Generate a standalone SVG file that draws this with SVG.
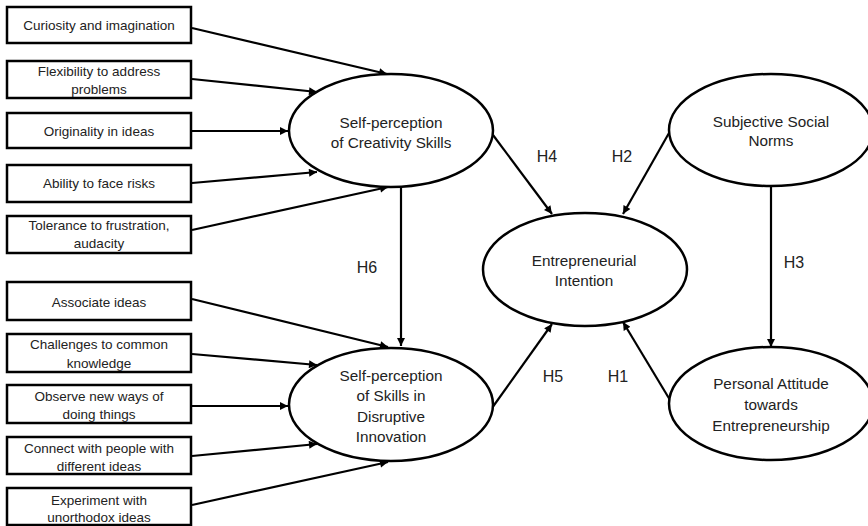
<svg xmlns="http://www.w3.org/2000/svg" width="868" height="526" viewBox="0 0 868 526">
<defs>
<marker id="ah" viewBox="0 0 10 10" refX="10" refY="5" markerWidth="9" markerHeight="8" markerUnits="userSpaceOnUse" orient="auto">
<path d="M0,0 L10,5 L0,10 Z" fill="#000"/>
</marker>
<style>
.box{fill:#fff;stroke:#000;stroke-width:2.5}
.ell{fill:#fff;stroke:#000;stroke-width:2.5}
.bt{font-family:"Liberation Sans",Arial,sans-serif;font-size:13.5px;fill:#222;text-anchor:middle}
.et{font-family:"Liberation Sans",Arial,sans-serif;font-size:15.3px;fill:#222;text-anchor:middle}
.ht{font-family:"Liberation Sans",Arial,sans-serif;font-size:16px;fill:#222;text-anchor:middle}
.c{stroke:#000;stroke-width:2.2;fill:none;marker-end:url(#ah)}
</style>
</defs>
<rect width="868" height="526" fill="#fff"/>
<g id="connectors">
<line class="c" x1="192" y1="28" x2="387" y2="74"/>
<line class="c" x1="192" y1="79" x2="317" y2="92"/>
<line class="c" x1="192" y1="131" x2="288" y2="131"/>
<line class="c" x1="192" y1="183" x2="317" y2="172"/>
<line class="c" x1="192" y1="230" x2="388" y2="187"/>
<line class="c" x1="192" y1="299" x2="388" y2="347"/>
<line class="c" x1="192" y1="354" x2="317" y2="365"/>
<line class="c" x1="192" y1="406" x2="288" y2="406"/>
<line class="c" x1="192" y1="456" x2="317" y2="444"/>
<line class="c" x1="192" y1="505" x2="388" y2="462"/>
<line class="c" x1="401" y1="187" x2="401" y2="346"/>
<line class="c" x1="493" y1="135" x2="552" y2="214"/>
<line class="c" x1="669" y1="133" x2="623" y2="214"/>
<line class="c" x1="771" y1="186" x2="771" y2="347"/>
<line class="c" x1="492" y1="408" x2="552" y2="324"/>
<line class="c" x1="670" y1="400" x2="623" y2="322"/>
</g>
<g id="labels">
<text class="ht" x="547" y="161.5">H4</text>
<text class="ht" x="622" y="161.5">H2</text>
<text class="ht" x="367" y="272.5">H6</text>
<text class="ht" x="794" y="267.5">H3</text>
<text class="ht" x="553" y="381.5">H5</text>
<text class="ht" x="618" y="381.5">H1</text>
</g>
<g id="box1"><rect class="box" x="7" y="7" width="184" height="36"/><text class="bt" x="99" y="30">Curiosity and imagination</text></g>
<g id="box2"><rect class="box" x="7" y="61" width="184" height="37"/><text class="bt" x="99" y="76">Flexibility to address</text><text class="bt" x="99" y="94">problems</text></g>
<g id="box3"><rect class="box" x="7" y="113" width="184" height="35"/><text class="bt" x="99" y="136">Originality in ideas</text></g>
<g id="box4"><rect class="box" x="7" y="165" width="184" height="37"/><text class="bt" x="99" y="188">Ability to face risks</text></g>
<g id="box5"><rect class="box" x="7" y="216" width="184" height="37"/><text class="bt" x="99" y="230">Tolerance to frustration,</text><text class="bt" x="99" y="248">audacity</text></g>
<g id="box6"><rect class="box" x="7" y="282" width="184" height="38"/><text class="bt" x="99" y="307">Associate ideas</text></g>
<g id="box7"><rect class="box" x="7" y="334" width="184" height="38"/><text class="bt" x="99" y="349">Challenges to common</text><text class="bt" x="99" y="368">knowledge</text></g>
<g id="box8"><rect class="box" x="7" y="385" width="184" height="38"/><text class="bt" x="99" y="401">Observe new ways of</text><text class="bt" x="99" y="419">doing things</text></g>
<g id="box9"><rect class="box" x="7" y="437" width="184" height="37"/><text class="bt" x="99" y="453">Connect with people with</text><text class="bt" x="99" y="471">different ideas</text></g>
<g id="box10"><rect class="box" x="7" y="488" width="184" height="37"/><text class="bt" x="99" y="505">Experiment with</text><text class="bt" x="99" y="522">unorthodox ideas</text></g>
<g id="creativity"><ellipse class="ell" cx="391" cy="130.5" rx="102" ry="56.5"/><text class="et" x="391" y="127.5">Self-perception</text><text class="et" x="391" y="147.5">of Creativity Skills</text></g>
<g id="disruptive"><ellipse class="ell" cx="391" cy="404.5" rx="102" ry="56.5"/><text class="et" x="391" y="380.5">Self-perception</text><text class="et" x="391" y="400.5">of Skills in</text><text class="et" x="391" y="421.5">Disruptive</text><text class="et" x="391" y="441.5">Innovation</text></g>
<g id="intention"><ellipse class="ell" cx="585" cy="269.5" rx="102" ry="56.5"/><text class="et" x="584" y="265.5">Entrepreneurial</text><text class="et" x="584" y="285.5">Intention</text></g>
<g id="norms"><ellipse class="ell" cx="771" cy="130" rx="102" ry="56"/><text class="et" x="771" y="126.5">Subjective Social</text><text class="et" x="771" y="145.5">Norms</text></g>
<g id="attitude"><ellipse class="ell" cx="771" cy="403.5" rx="102" ry="56.5"/><text class="et" x="771" y="388.5">Personal Attitude</text><text class="et" x="771" y="409.5">towards</text><text class="et" x="771" y="430.5">Entrepreneurship</text></g>
</svg>
